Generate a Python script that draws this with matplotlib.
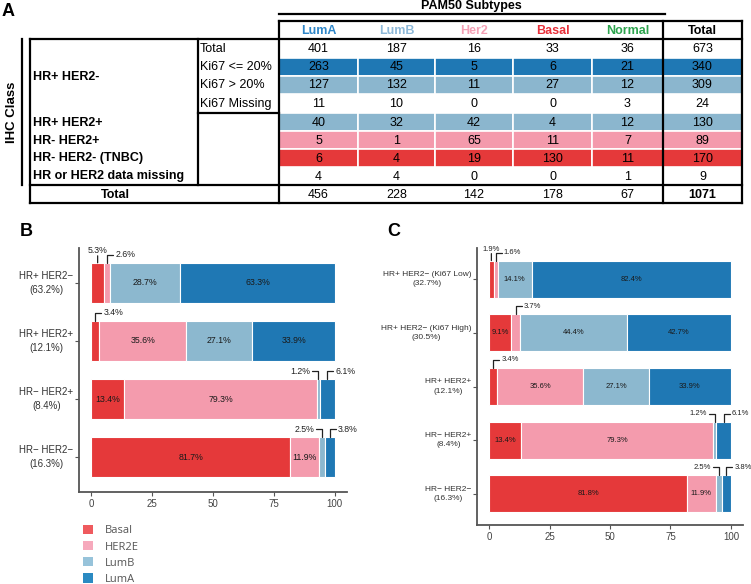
import matplotlib.pyplot as plt
from matplotlib.patches import Patch
from matplotlib.transforms import ScaledTranslation

plt.rcParams['font.family'] = ['Liberation Sans', 'DejaVu Sans']

# ---- table (panel A) data ----
subtypes = ["LumA", "LumB", "Her2", "Basal", "Normal"]
row_counts = [
    [401, 187, 16, 33, 36, 673],
    [263, 45, 5, 6, 21, 340],
    [127, 132, 11, 27, 12, 309],
    [11, 10, 0, 0, 3, 24],
    [40, 32, 42, 4, 12, 130],
    [5, 1, 65, 11, 7, 89],
    [6, 4, 19, 130, 11, 170],
    [4, 4, 0, 0, 1, 9],
]
col_totals = [456, 228, 142, 178, 67, 1071]
group_labels = ["HR+ HER2-", "HR+ HER2+", "HR- HER2+", "HR- HER2- (TNBC)", "HR or HER2 data missing"]
sub_labels = ["Total", "Ki67 <= 20%", "Ki67 > 20%", "Ki67 Missing"]

# ---- bar panels data ----
classes = ["Basal", "HER2E", "LumB", "LumA"]
b_labels = ["HR+ HER2\u2212\n(63.2%)", "HR+ HER2+\n(12.1%)", "HR\u2212 HER2+\n(8.4%)", "HR\u2212 HER2\u2212\n(16.3%)"]
b_basal = [5.3, 3.4, 13.4, 81.7]
b_her2e = [2.6, 35.6, 79.3, 11.9]
b_lumb = [28.7, 27.1, 1.2, 2.5]
b_luma = [63.3, 33.9, 6.1, 3.8]

c_labels = ["HR+ HER2\u2212 (Ki67 Low)\n(32.7%)", "HR+ HER2\u2212 (Ki67 High)\n(30.5%)",
            "HR+ HER2+\n(12.1%)", "HR\u2212 HER2+\n(8.4%)", "HR\u2212 HER2\u2212\n(16.3%)"]
c_basal = [1.9, 9.1, 3.4, 13.4, 81.8]
c_her2e = [1.6, 3.7, 35.6, 79.3, 11.9]
c_lumb = [14.1, 44.4, 27.1, 1.2, 2.5]
c_luma = [82.4, 42.7, 33.9, 6.1, 3.8]

# how small segments are labelled (None = inside the bar)
b_modes = [['up', 'right', None, None], ['right', None, None, None],
           [None, None, 'left', 'right'], [None, None, 'left', 'right']]
c_modes = [['up', 'right', None, None], [None, 'right', None, None], ['right', None, None, None],
           [None, None, 'left', 'right'], [None, None, 'left', 'right']]

bar_colors = ['#E5393A', '#F49BAD', '#8CB8CF', '#1F78B4']
legend_colors = ['#EF5A5E', '#F6A9BC', '#97C3DA', '#2B8AC2']
head_colors = ['#2E86C8', '#8DB8D8', '#F4A0B5', '#E8303A', '#2DA44E']
row_fill = [None, '#1F78B4', '#8BB6CE', None, '#8BB6CE', '#F49AAC', '#E5393A', None]

fig = plt.figure(figsize=(7.51, 5.84), dpi=100)

# ================= panel A: table =================
ta = fig.add_axes([0, 0, 1, 1])
ta.set_xlim(0, 751)
ta.set_ylim(584, 0)
ta.axis('off')

xe = [279, 358, 435, 513, 592, 663, 742]
ye = [39, 58, 76, 94, 113, 131, 149, 167, 185, 203]
fs = 9

for r, vals in enumerate(row_counts):
    y0, y1 = ye[r], ye[r + 1]
    for c, v in enumerate(vals):
        if row_fill[r]:
            ta.add_patch(plt.Rectangle((xe[c], y0), xe[c + 1] - xe[c], y1 - y0,
                                       facecolor=row_fill[r], edgecolor='white', lw=1.2))
        ta.text((xe[c] + xe[c + 1]) / 2, (y0 + y1) / 2 + 0.5, str(v), ha='center', va='center', fontsize=fs)

for c, v in enumerate(col_totals):
    ta.text((xe[c] + xe[c + 1]) / 2, (ye[8] + ye[9]) / 2 + 0.5, str(v), ha='center', va='center',
            fontsize=fs, fontweight='bold' if c == 5 else 'normal')

for c, name in enumerate(subtypes + ["Total"]):
    col = head_colors[c] if c < 5 else 'black'
    ta.text((xe[c] + xe[c + 1]) / 2, 30.5, name, ha='center', va='center', fontsize=fs,
            fontweight='bold', color=col)

for i, lab in enumerate(sub_labels):
    ta.text(200, (ye[i] + ye[i + 1]) / 2 + 0.5, lab, ha='left', va='center', fontsize=fs)

group_y = [(ye[0] + ye[4]) / 2] + [(ye[k] + ye[k + 1]) / 2 for k in range(4, 8)]
for lab, y in zip(group_labels, group_y):
    ta.text(33, y + 0.5, lab, ha='left', va='center', fontsize=fs, fontweight='bold')
ta.text(115, (ye[8] + ye[9]) / 2 + 0.5, "Total", ha='center', va='center', fontsize=fs, fontweight='bold')

lw = 1.6
segs = [
    ([279, 742], [21, 21]), ([30, 742], [39, 39]), ([30, 742], [185, 185]), ([30, 742], [203, 203]),
    ([279, 279], [21, 203]), ([663, 663], [21, 203]), ([742, 742], [21, 203]),
    ([30, 30], [39, 203]), ([198, 198], [39, 185]), ([198, 279], [113, 113]),
    ([279, 665], [14, 14]), ([22, 22], [39, 185]),
]
for xs, ys in segs:
    ta.plot(xs, ys, color='black', lw=lw, solid_capstyle='projecting')

ta.text(471, 6, "PAM50 Subtypes", ha='center', va='center', fontsize=fs, fontweight='bold')
ta.text(12, 112, "IHC Class", ha='center', va='center', rotation=90, fontsize=9.5, fontweight='bold')
ta.text(2, 11, "A", ha='left', va='center', fontsize=13, fontweight='bold')
ta.text(20, 232, "B", ha='left', va='center', fontsize=13, fontweight='bold')
ta.text(387, 231, "C", ha='left', va='center', fontsize=13, fontweight='bold')


# ================= panels B and C =================
def note(ax, x, y, text, mode, size):
    kw = dict(textcoords='offset pixels', fontsize=size, color='#222222')
    line = dict(arrowstyle='-', lw=0.9, color='#222222', shrinkA=0, shrinkB=0)
    if mode == 'up':
        ax.annotate('', xy=(x, y), xytext=(0, 7), textcoords='offset pixels', arrowprops=line)
        ax.annotate(text, xy=(x, y), xytext=(0, 8), ha='center', va='bottom', **kw)
    else:
        s = 1 if mode == 'right' else -1
        line['connectionstyle'] = 'angle,angleA=0,angleB=90,rad=0'
        ax.annotate('', xy=(x, y), xytext=(s * 6, 8), textcoords='offset pixels', arrowprops=line)
        ax.annotate(text, xy=(x, y), xytext=(s * 8, 8), ha='left' if s > 0 else 'right',
                    va='center', **kw)


def stacked(ax, labels, series, modes, ylim, tick_fs, in_fs):
    n = len(labels)
    h = 0.69
    left = [0.0] * n
    for k, vals in enumerate(series):
        ax.barh(range(n), vals, left=left, height=h, color=bar_colors[k], edgecolor='white', lw=0.8)
        for i, v in enumerate(vals):
            xc = left[i] + v / 2
            m = modes[i][k]
            if m is None:
                ax.text(xc, i, f"{v}%", ha='center', va='center', fontsize=in_fs, color='#1a1a1a')
            else:
                note(ax, xc, i - h / 2, f"{v}%", m, in_fs)
        left = [a + b for a, b in zip(left, vals)]
    ax.set_ylim(ylim, -ylim + n - 1)
    ax.set_xlim(-5, 105)
    ax.set_yticks(range(n))
    ax.set_yticklabels(labels, fontsize=tick_fs, color='#333333', multialignment='center',
                       va='center', linespacing=1.45)
    # first line of each label sits on its tick
    shift = ScaledTranslation(0, -tick_fs * 1.45 / 2 / 72, fig.dpi_scale_trans)
    for lab in ax.get_yticklabels():
        lab.set_transform(lab.get_transform() + shift)
    ax.set_xticks([0, 25, 50, 75, 100])
    ax.tick_params(axis='x', labelsize=7, colors='#555555', length=3, pad=2)
    ax.tick_params(axis='y', colors='#555555', length=3, pad=1)
    for lab in ax.get_xticklabels():
        lab.set_color('#444444')
    for lab in ax.get_yticklabels():
        lab.set_color('#333333')
    for sp in ['top', 'right']:
        ax.spines[sp].set_visible(False)
    for sp in ['left', 'bottom']:
        ax.spines[sp].set_color('#555555')
        ax.spines[sp].set_linewidth(1.3)


axb = fig.add_axes([79 / 751, 1 - 492 / 584, (347 - 79) / 751, (492 - 248) / 584])
stacked(axb, b_labels, [b_basal, b_her2e, b_lumb, b_luma], b_modes, 3.6, 7, 6.3)

axc = fig.add_axes([477 / 751, 1 - 525 / 584, (743 - 477) / 751, (525 - 248) / 584])
stacked(axc, c_labels, [c_basal, c_her2e, c_lumb, c_luma], c_modes, 4.58, 6, 5.5)

handles = [Patch(facecolor=c, edgecolor='none') for c in legend_colors]
fig.legend(handles, classes, loc='upper left', bbox_to_anchor=(83 / 751, 1 - 525 / 584),
           frameon=False, fontsize=8, handlelength=0.9, handleheight=0.9, handletextpad=1.1,
           labelspacing=0.42, borderpad=0, borderaxespad=0,
           prop={'family': ['Open Sans', 'DejaVu Sans'], 'size': 8}, labelcolor='#555555')

fig.savefig("out.png", dpi=100)
